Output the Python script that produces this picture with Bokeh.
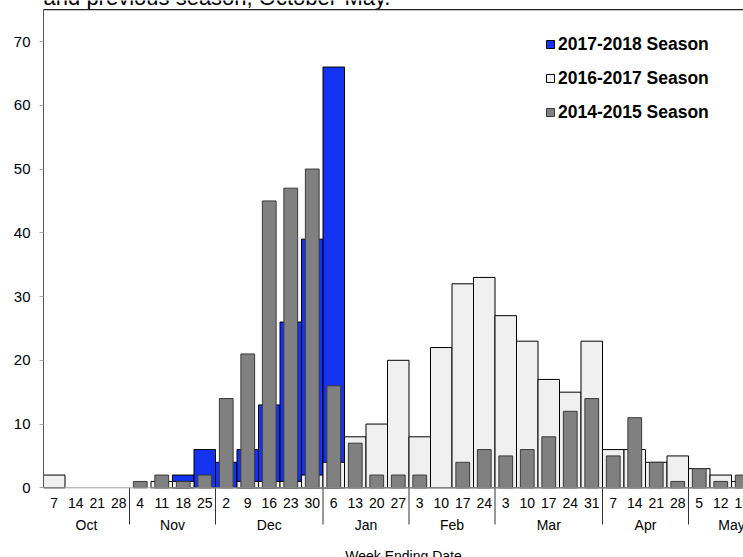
from bokeh.plotting import figure
from bokeh.models import (ColumnDataSource, Range1d, FixedTicker,
                          Legend, LegendItem, Span)
from bokeh.core.properties import value
from bokeh.embed import file_html
from bokeh.resources import INLINE

# ---------------- data ----------------
days = [7, 14, 21, 28, 4, 11, 18, 25, 2, 9, 16, 23, 30, 6, 13, 20, 27,
        3, 10, 17, 24, 3, 10, 17, 24, 31, 7, 14, 21, 28, 5, 12, 19]
months = ["Oct", "Nov", "Dec", "Jan", "Feb", "Mar", "Apr", "May"]
weeks_per_month = [4, 4, 5, 4, 4, 5, 4, 4]
season_2017_18 = [0, 0, 0, 0, 0, 0, 2, 6, 4, 6, 13, 26, 39, 66]
season_2016_17 = [2, 0, 0, 0, 0, 1, 1, 0, 0, 1, 1, 1, 2, 4, 8, 10, 20,
                  8, 22, 32, 33, 27, 23, 17, 15, 23, 6, 6, 4, 5, 3, 2, 1]
season_2014_15 = [0, 0, 0, 0, 1, 2, 1, 2, 14, 21, 45, 47, 50, 16, 7, 2, 2,
                  2, 0, 4, 6, 5, 6, 8, 12, 14, 5, 11, 4, 1, 3, 1, 2]
y_ticks = [0, 10, 20, 30, 40, 50, 60, 70]
y_top = 75
x_title = "Week Ending Date"
title_tail = "and previous season, October-May."
series_names = ["2017-2018 Season", "2016-2017 Season", "2014-2015 Season"]

FONT = "Liberation Sans"
WEEK_PX = 21.5       # pixels per week
UNIT_PX = 6.375      # pixels per case
ZERO_Y = 487.3       # pixel row of y = 0
W, H = 743, 557
LEFT = 43

def px_to_y(py):
    return (ZERO_Y - py) / UNIT_PX

def px_to_x(px):
    return (px - LEFT) / WEEK_PX

def src(vals):
    xs = [i + 0.5 for i, v in enumerate(vals) if v > 0]
    ys = [v for v in vals if v > 0]
    return ColumnDataSource(dict(x=xs, top=ys))

p = figure(width=W, height=H, output_backend="svg", toolbar_location=None,
           title=None, x_axis_location=None,
           x_range=Range1d(0, (W - LEFT) / WEEK_PX),
           y_range=Range1d(px_to_y(H), px_to_y(0)),
           min_border_left=LEFT, min_border_right=0, min_border_top=0,
           min_border_bottom=0)
p.outline_line_color = None
p.xgrid.visible = False
p.ygrid.visible = False
p.grid.grid_line_color = None
p.background_fill_color = "white"
p.border_fill_color = "white"

r_blue = p.vbar(x="x", top="top", width=1.0, source=src(season_2017_18),
                fill_color="#1432F2", line_color="#000000", line_width=1)
r_light = p.vbar(x="x", top="top", width=1.0, source=src(season_2016_17),
                 fill_color="#F0F0F0", line_color="#000000", line_width=1)
r_dark = p.vbar(x="x", top="top", width=0.64, source=src(season_2014_15),
                fill_color="#808080", line_color="#3A3A3A", line_width=1)

# frame top line and baseline
p.add_layout(Span(location=y_top, dimension="width", line_color="#222222", line_width=1.3))
p.add_layout(Span(location=0, dimension="width", line_color="#A0A0A0", line_width=1))

# y axis
ya = p.yaxis[0]
ya.ticker = FixedTicker(ticks=y_ticks)
ya.bounds = (0, y_top)
ya.major_tick_out = 4
ya.major_tick_in = 0
ya.minor_tick_out = 0
ya.minor_tick_in = 0
ya.major_tick_line_color = "#AAAAAA"
ya.axis_line_color = "#555555"
ya.major_label_standoff = 9
ya.major_label_text_font = FONT
ya.major_label_text_font_size = "15px"
ya.major_label_text_color = "black"

# month boundaries / centers
bounds, centers, acc = [], [], 0
for n in weeks_per_month:
    centers.append(acc + n / 2)
    acc += n
    bounds.append(acc)
bounds = bounds[:-1]

# month separators below the baseline
p.segment(x0=bounds, y0=[0] * len(bounds), x1=bounds,
          y1=[px_to_y(524)] * len(bounds), line_color="#333333", line_width=1)

# day labels
week_pos = [i + 0.5 for i in range(len(days))]
p.text(x=week_pos, y=[px_to_y(497.5)] * len(days), text=[str(d) for d in days],
       text_align="center", text_baseline="top", text_font=value(FONT),
       text_font_size="14px", text_color="black")

# month labels
p.text(x=centers, y=[px_to_y(516.5)] * len(months), text=months,
       text_align="center", text_baseline="top", text_font=value(FONT),
       text_font_size="14px", text_color="black")

# axis title
p.text(x=[px_to_x(403)], y=[px_to_y(547.5)], text=[x_title],
       text_align="center", text_baseline="top", text_font=value(FONT),
       text_font_size="14px", text_color="black")

# cropped chart title (only its last line's lower part is visible)
p.text(x=[px_to_x(216.5)], y=[px_to_y(9.5)], text=[title_tail],
       text_align="center", text_baseline="bottom", text_font=value(FONT),
       text_font_size="22px", text_color="black")

legend_h = 3 * 20 + 2 * 13.5
legend = Legend(items=[LegendItem(label=series_names[0], renderers=[r_blue]),
                       LegendItem(label=series_names[1], renderers=[r_light]),
                       LegendItem(label=series_names[2], renderers=[r_dark])],
                location=(545 - LEFT, H - (35.5 + legend_h)), orientation="vertical",
                glyph_width=10, glyph_height=10, label_height=20,
                label_standoff=3, spacing=13, padding=0, margin=0,
                border_line_color=None, background_fill_alpha=0,
                label_text_font=FONT, label_text_font_size="17.5px",
                label_text_font_style="bold", label_text_color="black")
p.add_layout(legend)

open("out.html", "w").write(file_html(p, INLINE))
